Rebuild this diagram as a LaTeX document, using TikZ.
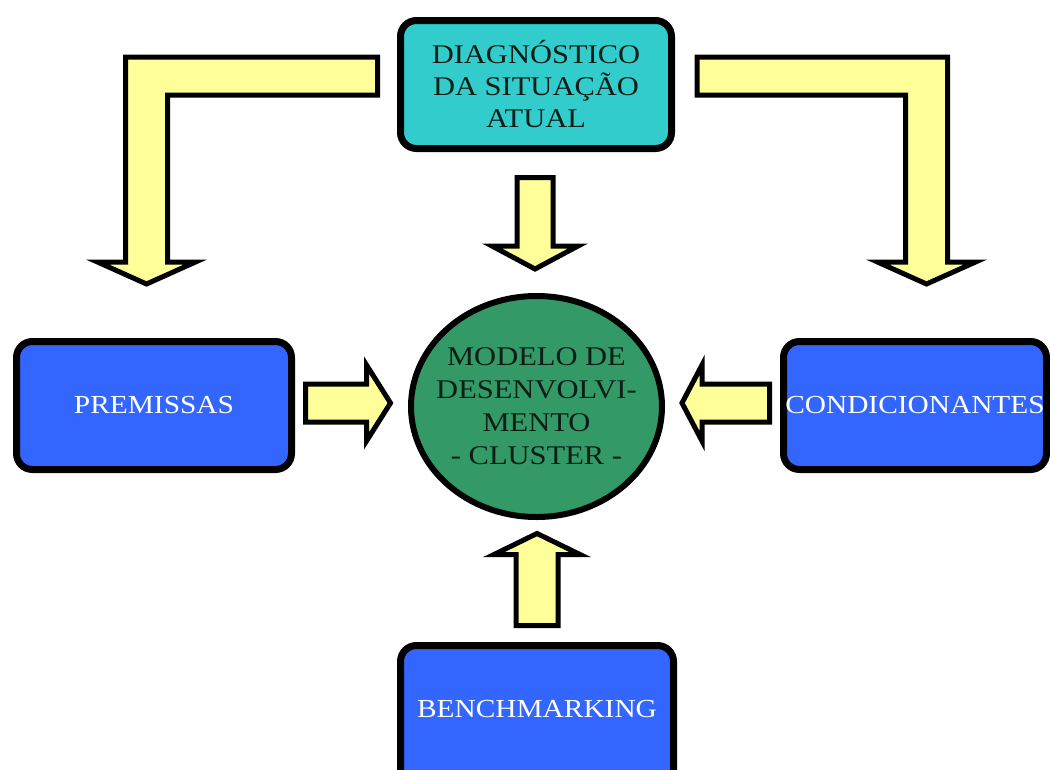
\documentclass[tikz,border=0pt]{standalone}
\usepackage{fontspec}
\setmainfont[FakeStretch=1.13]{Liberation Serif}
\usetikzlibrary{shapes.geometric,calc}
\definecolor{cDiag}{HTML}{33CCCC}
\definecolor{cBox}{HTML}{3366FF}
\definecolor{cMod}{HTML}{339966}
\definecolor{cArr}{HTML}{FFFF99}
\definecolor{cInk}{HTML}{0A1E16}

% block arrow: tail, tip, half shaft, half head, head length
\newcommand{\blockarrow}[5]{%
  \coordinate (hb) at ($(#2)!#5!(#1)$);
  \draw[barr] ($(#1)!#3!90:(#2)$) -- ($(hb)!#3!90:(#2)$) -- ($(hb)!#4!90:(#2)$) -- (#2)
    -- ($(hb)!#4!-90:(#2)$) -- ($(hb)!#3!-90:(#2)$) -- ($(#1)!#3!-90:(#2)$) -- cycle;}

\begin{document}
\begin{tikzpicture}[x=1pt, y=1pt,
    box/.style ={draw=black, line width=7pt, rounded corners=16pt, align=center,
                 inner sep=0pt, minimum height=128pt},
    mod/.style ={ellipse, draw=black, line width=6pt, fill=cMod, text=cInk, align=center,
                 inner xsep=-20pt, inner ysep=0pt, minimum width=251pt, minimum height=221pt,
                 font=\fontsize{27}{33}\selectfont},
    barr/.style={draw=black, fill=cArr, line width=5pt}]

\clip (0,0) rectangle (1050,-769);

% ── boxes ───────────────────────────────────────────────
\node[box, fill=cDiag, text=cInk, minimum width=271pt, font=\fontsize{27}{32}\selectfont]
  (diag) at (536,-84.5) {DIAGNÓSTICO\\DA SITUAÇÃO\\ATUAL};
\node[box, fill=cBox, text=white, minimum width=275pt, font=\fontsize{26}{32}\selectfont]
  (prem) at (154,-405.5) {PREMISSAS};
\node[box, fill=cBox, text=white, minimum width=263pt, font=\fontsize{26}{32}\selectfont]
  (cond) at (915,-405.5) {CONDICIONANTES};
% runs off the bottom edge
\node[box, fill=cBox, text=white, minimum width=273pt, minimum height=150pt, text depth=24pt,
      font=\fontsize{26}{32}\selectfont]
  (bench) at (537,-720.5) {BENCHMARKING};
\node[mod] (model) at (536.5,-406.5) {MODELO DE\\DESENVOLVI-\\MENTO\\- CLUSTER -};

% ── straight arrows ─────────────────────────────────────
\blockarrow{$(diag.south)+(-1,-25.5)$}{$(model.north)+(-1.5,24)$}{18pt}{43pt}{23pt}
\blockarrow{$(prem.east)+(10.5,2.5)$}{$(model.west |- prem.east)+(-17.5,2.5)$}{19pt}{38pt}{24pt}
\blockarrow{$(cond.west)+(-10.5,2.5)$}{$(model.east |- cond.west)+(17,2.5)$}{19pt}{38pt}{20pt}
\blockarrow{$(bench.north)+(0,16.5)$}{$(model.south -| bench.north)+(0,-13.5)$}{21pt}{43pt}{21pt}

% ── bent arrows ─────────────────────────────────────────
\coordinate (lS) at ($(diag.west)+(-19.5,8.5)$);
\coordinate (lT) at ($(prem.north)+(-7.5,54)$);
\coordinate (lK) at (lT |- lS);
\draw[barr] ($(lS)+(0,19)$) -- ($(lK)+(-21,19)$) -- ($(lT)+(-21,22)$) -- ($(lT)+(-49,22)$) -- (lT)
  -- ($(lT)+(49,22)$) -- ($(lT)+(21,22)$) -- ($(lK)+(21,-19)$) -- ($(lS)+(0,-19)$) -- cycle;

\coordinate (rS) at ($(diag.east)+(22,8.5)$);
\coordinate (rT) at ($(cond.north)+(11.5,54)$);
\coordinate (rK) at (rT |- rS);
\draw[barr] ($(rS)+(0,19)$) -- ($(rK)+(21,19)$) -- ($(rT)+(21,22)$) -- ($(rT)+(49,22)$) -- (rT)
  -- ($(rT)+(-49,22)$) -- ($(rT)+(-21,22)$) -- ($(rK)+(-21,-19)$) -- ($(rS)+(0,-19)$) -- cycle;
\end{tikzpicture}
\end{document}
